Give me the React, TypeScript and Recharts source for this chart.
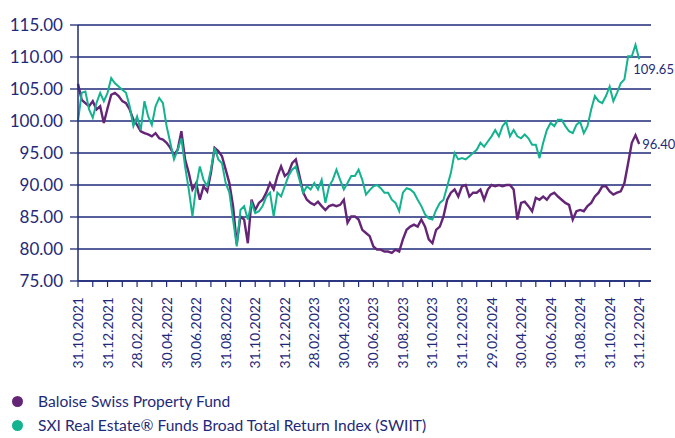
import { LineChart, Line, XAxis, YAxis, CartesianGrid, Legend } from "recharts";

const NAVY = "#1e2a78";
const PURPLE = "#652577";
const TEAL = "#13b38f";

// x-axis labels, one every two months (ticks are monthly)
const tickLabels = [
  "31.10.2021", "31.12.2021", "28.02.2022", "30.04.2022", "30.06.2022",
  "31.08.2022", "31.10.2022", "31.12.2022", "28.02.2023", "30.04.2023",
  "30.06.2023", "31.08.2023", "31.10.2023", "31.12.2023", "29.02.2024",
  "30.04.2024", "30.06.2024", "31.08.2024", "31.10.2024", "31.12.2024",
];

const yTicks = [75, 80, 85, 90, 95, 100, 105, 110, 115];

// weekly-ish readings (4 per month) starting 31.10.2021
const fundValues = [
  105.8, 103.3, 102.8, 102.3, 103.1, 101.8, 102.3, 99.7, 102.0, 104.1,
  104.4, 103.9, 103.1, 102.8, 101.8, 100.2, 99.4, 98.4, 98.1, 97.9,
  97.6, 98.1, 97.3, 97.1, 96.6, 95.8, 94.7, 95.5, 98.4, 94.0,
  91.9, 89.3, 90.3, 87.7, 89.8, 89.0, 91.9, 95.8, 95.3, 94.5,
  92.4, 90.3, 86.7, 80.8, 85.1, 84.6, 80.9, 87.7, 86.1, 87.2,
  87.7, 88.8, 90.3, 89.3, 91.4, 92.9, 91.4, 91.9, 93.4, 94.0,
  91.4, 88.8, 87.7, 87.2, 86.9, 87.4, 86.7, 86.1, 86.7, 86.9,
  86.7, 86.9, 87.7, 84.1, 85.1, 85.1, 84.6, 83.0, 82.5, 82.0,
  80.4, 79.9, 79.9, 79.6, 79.6, 79.4, 79.9, 79.6, 81.5, 83.0,
  83.5, 83.8, 83.5, 84.6, 83.5, 81.5, 80.9, 83.0, 83.5, 85.1,
  87.7, 88.8, 89.3, 88.2, 89.8, 90.0, 88.2, 88.8, 88.8, 89.3,
  87.7, 89.3, 90.0, 89.8, 90.0, 89.8, 90.0, 90.0, 89.3, 84.6,
  87.2, 87.4, 86.7, 85.9, 88.0, 87.7, 88.2, 87.7, 88.5, 88.8,
  88.2, 87.7, 87.2, 86.9, 84.6, 85.9, 86.1, 85.9, 86.7, 87.2,
  88.2, 88.8, 89.8, 89.8, 89.0, 88.5, 88.8, 89.0, 90.3, 93.4,
  96.6, 97.8, 96.4,
];

const indexValues = [
  100.0, 104.4, 104.6, 101.8, 100.5, 102.8, 104.4, 103.1, 104.4, 106.7,
  105.9, 105.4, 104.9, 104.4, 102.3, 99.2, 100.7, 98.6, 103.1, 100.7,
  99.4, 102.3, 103.6, 102.8, 99.2, 96.6, 94.0, 95.5, 97.3, 92.9,
  89.3, 85.1, 89.8, 92.9, 90.8, 89.8, 92.4, 95.8, 94.0, 93.4,
  90.3, 88.8, 84.6, 80.4, 86.1, 86.7, 84.6, 87.2, 85.6, 85.9,
  86.7, 88.2, 88.8, 85.1, 88.8, 88.2, 89.8, 91.4, 92.4, 92.9,
  90.8, 88.8, 89.8, 89.3, 90.3, 89.3, 90.8, 87.2, 89.8, 90.8,
  92.4, 90.8, 89.3, 90.3, 91.4, 91.4, 92.4, 90.8, 88.5, 89.2,
  89.8, 90.0, 89.5, 88.8, 88.8, 87.7, 87.2, 85.9, 88.8, 89.5,
  89.3, 88.8, 87.7, 86.7, 85.4, 84.8, 84.6, 86.1, 87.2, 87.7,
  89.8, 91.9, 95.0, 94.0, 94.2, 94.0, 94.5, 95.0, 95.5, 96.6,
  96.0, 96.8, 97.6, 98.6, 97.6, 99.2, 99.9, 97.6, 98.6, 97.6,
  97.3, 97.9, 97.3, 96.3, 96.3, 94.2, 96.6, 98.6, 99.7, 99.2,
  100.2, 100.2, 99.2, 98.4, 98.1, 99.4, 99.9, 98.1, 99.2, 101.8,
  103.9, 103.1, 102.8, 103.9, 105.4, 103.1, 104.4, 105.9, 106.5, 110.1,
  110.1, 111.9, 109.65,
];

const data = fundValues.map((v, i) => ({
  t: i / 4,
  fund: v,
  index: indexValues[i],
}));

const monthTicks = Array.from({ length: 39 }, (_, i) => i);
const lastIndex = data.length - 1;

const XTick = (props: any) => {
  const { x, y, payload } = props;
  const m = payload.value;
  if (m % 2 !== 0) return null;
  return (
    <text
      transform={`translate(${x},${y}) rotate(-90)`}
      textAnchor="end"
      dy="0.36em"
      fill={NAVY}
      fontSize={14}
      fontFamily="Lato"
    >
      {tickLabels[m / 2]}
    </text>
  );
};

const endLabel = (dx: number, dy: number) => (props: any) => {
  const { x, y, index, value } = props;
  if (index !== lastIndex) return null;
  return (
    <text x={x + dx} y={y + dy} dy="0.36em" fill={NAVY} fontSize={13} fontFamily="Lato">
      {Number(value).toFixed(2)}
    </text>
  );
};

const LegendContent = (props: any) => {
  const { payload } = props;
  return (
    <div style={{ fontFamily: "Lato", fontSize: 15.6, color: NAVY }}>
      {payload.map((entry: any) => (
        <div key={entry.value} style={{ display: "flex", alignItems: "center", height: 24 }}>
          <span
            style={{
              display: "inline-block",
              width: 11,
              height: 11,
              borderRadius: "50%",
              background: entry.color,
              marginLeft: 12,
              marginRight: 15,
            }}
          />
          <span>{entry.value}</span>
        </div>
      ))}
    </div>
  );
};

export default function App() {
  return (
    <div style={{ position: "absolute", left: 0, top: 0 }}>
      <LineChart
        width={675}
        height={438}
        data={data}
        margin={{ top: 25, right: 24, bottom: 57, left: 0 }}
      >
        <CartesianGrid vertical={false} stroke={NAVY} strokeWidth={1.3} />
        <XAxis
          dataKey="t"
          type="number"
          domain={[0, 38.8]}
          ticks={monthTicks}
          interval={0}
          height={100}
          tick={<XTick />}
          tickSize={6}
          tickMargin={10}
          axisLine={{ stroke: NAVY, strokeWidth: 1.5 }}
          tickLine={{ stroke: NAVY, strokeWidth: 1.2 }}
        />
        <YAxis
          domain={[75, 115]}
          ticks={yTicks}
          width={78}
          tickSize={8}
          tickMargin={7}
          tickFormatter={(v: number) => v.toFixed(2)}
          tick={{ fill: NAVY, fontSize: 17, fontFamily: "Lato" }}
          axisLine={{ stroke: NAVY, strokeWidth: 1.5 }}
          tickLine={{ stroke: NAVY, strokeWidth: 1.3 }}
        />
        <Legend
          layout="vertical"
          verticalAlign="middle"
          align="center"
          wrapperStyle={{ top: 389, left: 0, width: 675 }}
          content={<LegendContent />}
        />
        <Line
          dataKey="fund"
          name="Baloise Swiss Property Fund"
          stroke={PURPLE}
          strokeWidth={2.4}
          dot={false}
          isAnimationActive={false}
          label={endLabel(3, 0)}
        />
        <Line
          dataKey="index"
          name="SXI Real Estate® Funds Broad Total Return Index (SWIIT)"
          stroke={TEAL}
          strokeWidth={2}
          dot={false}
          isAnimationActive={false}
          label={endLabel(-6, 10)}
        />
      </LineChart>
    </div>
  );
}
